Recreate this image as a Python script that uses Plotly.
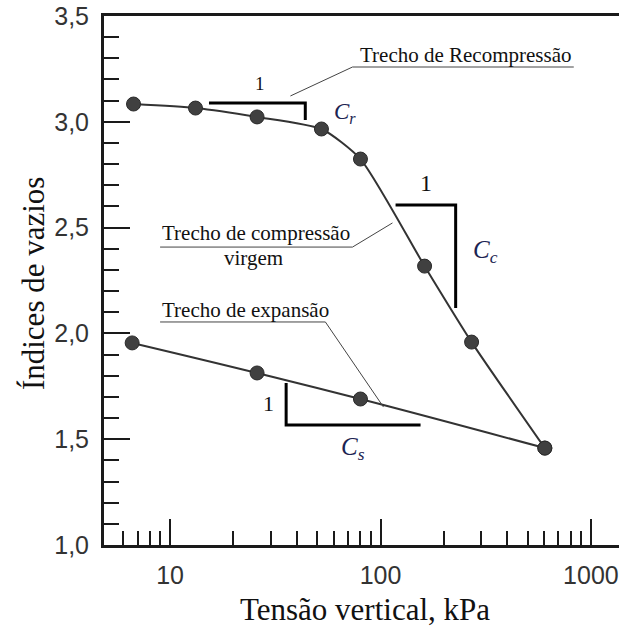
import math
import plotly.graph_objects as go

# ---- data ----
carga_tensao = [6.7, 13.2, 25.9, 52.4, 80.3, 162, 271, 604]
carga_e = [3.084, 3.065, 3.023, 2.966, 2.824, 2.318, 1.959, 1.458]
descarga_tensao = [604, 80.3, 25.9, 6.6]
descarga_e = [1.458, 1.690, 1.813, 1.955]

x_major = [10, 100, 1000]
x_major_labels = ["10", "100", "1000"]
x_minor = [6, 7, 8, 9, 20, 30, 40, 50, 60, 70, 80, 90,
           200, 300, 400, 500, 600, 700, 800, 900]
y_major = [1.0, 1.5, 2.0, 2.5, 3.0, 3.5]

SERIF = "Liberation Serif, Times New Roman, serif"
SANS = "Liberation Sans, Arial, sans-serif"
INK = "#111111"
NAVY = "#1c2452"
AX = "#1a1a1a"

fig = go.Figure()

marker_style = dict(size=14, color="#404040", line=dict(color="#2a2a2a", width=1))
fig.add_trace(go.Scatter(x=carga_tensao, y=carga_e, mode="lines+markers",
                         line=dict(color="#333333", width=2, shape="spline", smoothing=0.6),
                         marker=marker_style, showlegend=False, hoverinfo="skip"))
fig.add_trace(go.Scatter(x=descarga_tensao, y=descarga_e, mode="lines+markers",
                         line=dict(color="#333333", width=2, shape="spline", smoothing=1.3),
                         marker=marker_style, showlegend=False, hoverinfo="skip"))


def seg(xs, ys, width, color):
    fig.add_trace(go.Scatter(x=xs, y=ys, mode="lines", line=dict(color=color, width=width),
                             showlegend=False, hoverinfo="skip"))


# slope triangles
seg([15.3, 43.9, 43.9], [3.089, 3.089, 3.008], 3, "#000000")      # Cr
seg([117.9, 227.6, 227.6], [2.607, 2.607, 2.120], 3, "#000000")   # Cc
seg([35.6, 35.6, 155], [1.766, 1.567, 1.567], 3, "#000000")       # Cs

# underlines and leaders
seg([829, 73.6, 37.3], [3.259, 3.259, 3.122], 1, "#444444")
seg([8.96, 73.6, 114], [2.408, 2.408, 2.522], 1, "#444444")
seg([8.96, 54.7, 103.3], [2.054, 2.054, 1.652], 1, "#444444")


def txt(x, y, text, size, xanchor="center", color=INK):
    fig.add_annotation(x=math.log10(x), y=y, xref="x", yref="y", text=text, showarrow=False,
                       xanchor=xanchor, yanchor="middle", font=dict(family=SERIF, size=size, color=color))


txt(254, 3.316, "Trecho de Recompressão", 21)
txt(8.96, 2.474, "Trecho de compressão", 21, xanchor="left")
txt(24.8, 2.356, "virgem", 21)
txt(8.96, 2.111, "Trecho de expansão", 21, xanchor="left")
txt(26.8, 3.183, "1", 19)
txt(163.8, 2.711, "1", 24)
txt(29.3, 1.671, "1", 22)
txt(68.1, 3.042, "<i>C<sub>r</sub></i>", 23, color=NAVY)
txt(316, 2.385, "<i>C<sub>c</sub></i>", 25, color=NAVY)
txt(74.3, 1.458, "<i>C<sub>s</sub></i>", 25, color=NAVY)

# axis titles
fig.add_annotation(x=-0.138, y=0.495, xref="paper", yref="paper", text="Índices de vazios", textangle=-90,
                   showarrow=False, xanchor="center", yanchor="middle",
                   font=dict(family=SERIF, size=31, color=INK))
fig.add_annotation(x=0.507, y=-0.121, xref="paper", yref="paper", text="Tensão vertical, kPa",
                   showarrow=False, xanchor="center", yanchor="middle",
                   font=dict(family=SERIF, size=31, color=INK))

fig.update_xaxes(type="log", range=[math.log10(4.85), math.log10(1360)],
                 tickvals=x_major, ticktext=x_major_labels,
                 ticks="inside", ticklen=26, tickwidth=2, tickcolor=AX,
                 minor=dict(tickvals=x_minor, ticks="inside", ticklen=14, tickwidth=2, tickcolor=AX),
                 showline=True, linewidth=3, linecolor=AX, mirror=True,
                 showgrid=False, zeroline=False, ticklabelstandoff=6,
                 tickfont=dict(family=SANS, size=25, color="#333333"))
fig.update_yaxes(range=[1.0, 3.5], tickvals=y_major, tickformat=".1f",
                 ticks="inside", ticklen=26, tickwidth=2, tickcolor=AX,
                 minor=dict(dtick=0.1, ticks="inside", ticklen=15, tickwidth=2, tickcolor=AX),
                 showline=True, linewidth=3, linecolor=AX, mirror=False,
                 showgrid=False, zeroline=False, ticklabelstandoff=7,
                 tickfont=dict(family=SANS, size=25, color="#333333"))

fig.update_layout(width=619, height=627, margin=dict(l=104, r=0, t=16, b=82),
                  paper_bgcolor="white", plot_bgcolor="white", separators=",.",
                  showlegend=False)

fig.write_html("out.html")
